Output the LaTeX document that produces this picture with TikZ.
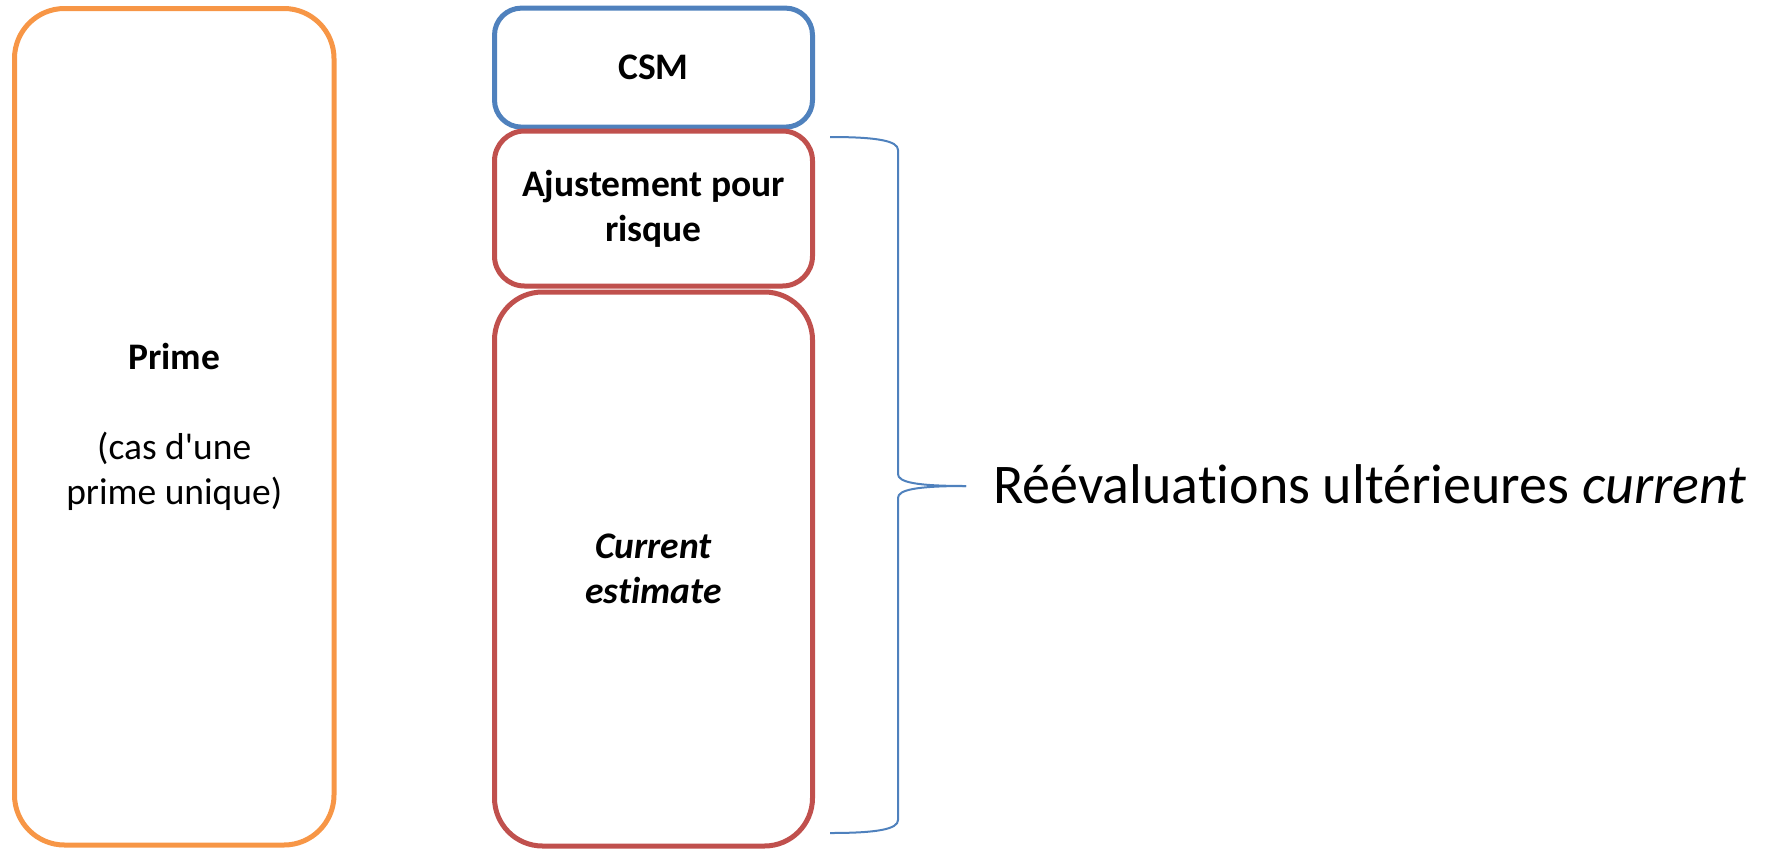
\documentclass[tikz,border=0pt]{standalone}
\usepackage{fontspec}
\newfontfamily\calib{Carlito}[Ligatures=NoCommon]
\definecolor{offorange}{HTML}{F79646}
\definecolor{offblue}{HTML}{4F81BD}
\definecolor{offred}{HTML}{C0504D}
\begin{document}
\begin{tikzpicture}[x=1pt,y=-1pt,
  boxbase/.style={draw, rectangle, line width=5pt, align=center, inner sep=0pt,
    font=\calib\fontsize{37.5}{45}\selectfont},
  orangebox/.style={boxbase, draw=offorange, rounded corners=50pt},
  bluebox/.style={boxbase, draw=offblue, rounded corners=27pt},
  redbox/.style={boxbase, draw=offred, rounded corners=30pt},
  bracestyle/.style={draw=offblue, line width=2pt},
  bigtext/.style={font=\calib\fontsize{56}{68}\selectfont, inner sep=0pt}
]
\useasboundingbox (0,0) rectangle (1766,849);
\node[orangebox, minimum width=319.5pt, minimum height=836.5pt] (prime) at (174.25,426.75)
  {\textbf{Prime}\\[45pt](cas d'une\\prime unique)};
\node[bluebox, minimum width=318pt, minimum height=119pt] (csm) at (653.5,67.6) {\textbf{CSM}};
\node[redbox, minimum width=318pt, minimum height=155pt] (ajust) at (653.5,208.5)
  {\textbf{Ajustement pour}\\\textbf{risque}};
\node[redbox, rounded corners=48pt, minimum width=318pt, minimum height=554pt] (curr) at (653.5,569)
  {\textbf{\textit{Current}}\\\textbf{\textit{est\kern0pt imate}}};
\node[bigtext, anchor=base west] (reev) at (993,503) {Réévaluat\kern0pt ions ultérieures \textit{current}};
\coordinate (btop) at (830,137);
\coordinate (bbot) at (830,833);
\coordinate (btip) at (966,486);
\draw[bracestyle] (btop) .. controls (878,137) and (898,141) .. (898,150)
  -- (898,474) .. controls (898,482) and (915,486) .. (btip);
\draw[bracestyle] (bbot) .. controls (878,833) and (898,829) .. (898,820)
  -- (898,498) .. controls (898,490) and (915,486) .. (btip);
\end{tikzpicture}
\end{document}
